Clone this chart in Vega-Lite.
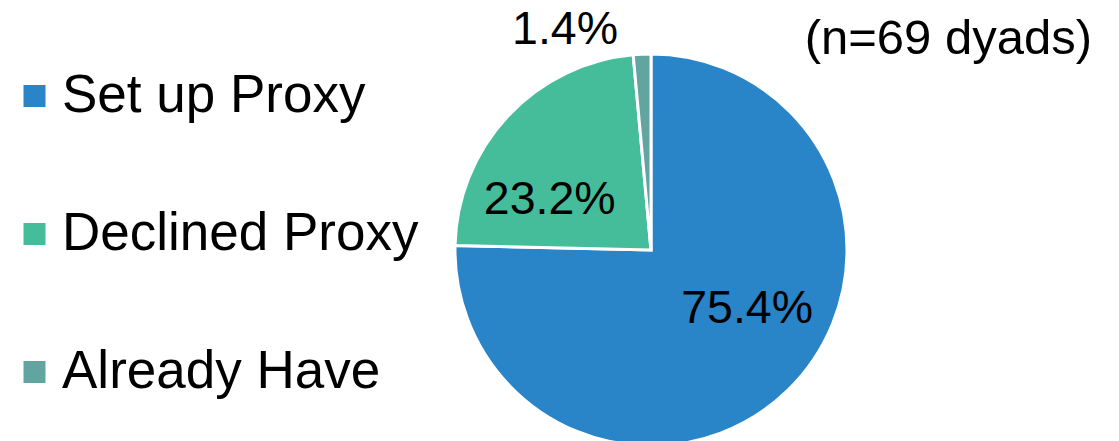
{
  "$schema": "https://vega.github.io/schema/vega-lite/v6.json",
  "autosize": "none",
  "width": 400,
  "height": 400,
  "padding": {"left": 451, "top": 50, "right": 268, "bottom": 0},
  "background": "white",
  "config": {"view": {"stroke": null}, "font": "Liberation Sans"},
  "title": {"text": "(n=69 dyads)", "anchor": "end", "frame": "group", "orient": "top", "offset": 0, "baseline": "alphabetic", "dx": 241, "dy": 96, "fontSize": 49, "fontWeight": "normal", "font": "Liberation Sans", "color": "black"},
  "data": {"values": [
    {"status": "Set up Proxy", "count": 52, "label": "75.4%", "order": 1},
    {"status": "Declined Proxy", "count": 16, "label": "23.2%", "order": 2},
    {"status": "Already Have", "count": 1, "label": "1.4%", "order": 3}
  ]},
  "layer": [
    {
      "mark": {"type": "arc", "outerRadius": 196, "stroke": "white", "strokeWidth": 3},
      "encoding": {
        "theta": {"field": "count", "type": "quantitative", "stack": true, "scale": {"domain": [0, 69]}},
        "order": {"field": "order", "type": "quantitative"},
        "color": {
          "field": "status", "type": "nominal",
          "sort": ["Set up Proxy", "Declined Proxy", "Already Have"],
          "scale": {"domain": ["Set up Proxy", "Declined Proxy", "Already Have"], "range": ["#2A84C8", "#45BC9A", "#62A5A0"]},
          "legend": {"orient": "none", "legendX": -443, "legendY": 19.5, "title": null, "symbolType": "square", "symbolSize": 484, "symbolStrokeWidth": 0, "labelFontSize": 53, "labelFont": "Liberation Sans", "labelColor": "black", "rowPadding": 84, "labelOffset": 1, "padding": 0, "labelLimit": 600}
        }
      }
    },
    {
      "transform": [
        {"window": [{"op": "sum", "field": "count", "as": "cum"}], "sort": [{"field": "order"}]},
        {"calculate": "datum.cum - datum.count / 2", "as": "mid"},
        {"filter": "datum.order == 1"}
      ],
      "mark": {"type": "text", "radius": 115, "fontSize": 46.5, "font": "Liberation Sans", "color": "black", "align": "center", "baseline": "middle", "dx": 15.7, "dy": -22.8},
      "encoding": {
        "theta": {"field": "mid", "type": "quantitative", "stack": null, "scale": {"domain": [0, 69]}},
        "text": {"field": "label"}
      }
    },
    {
      "transform": [
        {"window": [{"op": "sum", "field": "count", "as": "cum"}], "sort": [{"field": "order"}]},
        {"calculate": "datum.cum - datum.count / 2", "as": "mid"},
        {"filter": "datum.order == 2"}
      ],
      "mark": {"type": "text", "radius": 115, "fontSize": 46.5, "font": "Liberation Sans", "color": "black", "align": "center", "baseline": "middle", "dx": -17.2, "dy": 28.2},
      "encoding": {
        "theta": {"field": "mid", "type": "quantitative", "stack": null, "scale": {"domain": [0, 69]}},
        "text": {"field": "label"}
      }
    },
    {
      "transform": [
        {"window": [{"op": "sum", "field": "count", "as": "cum"}], "sort": [{"field": "order"}]},
        {"calculate": "datum.cum - datum.count / 2", "as": "mid"},
        {"filter": "datum.order == 3"}
      ],
      "mark": {"type": "text", "radius": 218, "fontSize": 46.5, "font": "Liberation Sans", "color": "black", "align": "center", "baseline": "middle", "dx": -76, "dy": -2},
      "encoding": {
        "theta": {"field": "mid", "type": "quantitative", "stack": null, "scale": {"domain": [0, 69]}},
        "text": {"field": "label"}
      }
    }
  ]
}
